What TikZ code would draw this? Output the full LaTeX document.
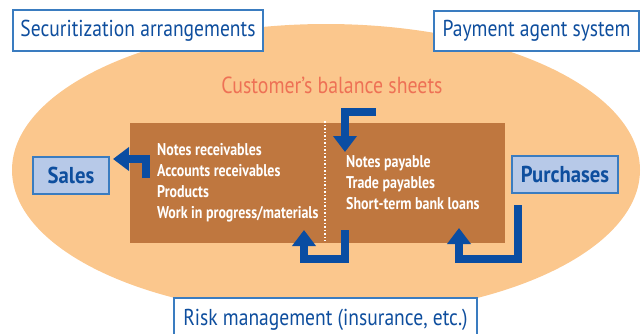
\documentclass[tikz,border=0pt]{standalone}
\usepackage{fontspec}
\setmainfont{PT Sans}[FakeStretch=0.85]
\newfontfamily\condbold{PT Sans}[FakeStretch=0.82,UprightFont=* Bold]
\newfontfamily\boxbold{PT Sans}[FakeStretch=0.9,UprightFont=* Bold]
\usetikzlibrary{arrows.meta}
\definecolor{ellfill}{HTML}{FBC78D}
\definecolor{brown}{HTML}{BF773F}
\definecolor{arrowblue}{HTML}{0A4DA2}
\definecolor{textblue}{HTML}{0E4E9E}
\definecolor{boxborder}{HTML}{3A7CC0}
\definecolor{lightblue}{HTML}{B7C9E8}
\definecolor{salmon}{HTML}{EE7155}
\tikzset{
  titlebox/.style={draw=boxborder, line width=1.3pt, fill=white, text=textblue,
    inner sep=0pt, font=\fontsize{23}{26}\selectfont},
  bluebox/.style={draw=boxborder, line width=1.3pt, fill=lightblue, text=textblue,
    inner sep=0pt, font=\boxbold\fontsize{23}{26}\selectfont},
  listtext/.style={text=white, align=left, inner sep=0pt,
    font=\condbold\fontsize{17}{21}\selectfont},
  flow/.style={draw=arrowblue, line width=8pt, line join=miter, line cap=butt,
    -{Triangle[length=16pt,width=23pt]}},
}
\begin{document}
\begin{tikzpicture}[x=1pt,y=-1pt]
\useasboundingbox (0,0) rectangle (641,333);
\clip (0,0) rectangle (641,333);
% ellipse
\fill[ellfill] (326,170) ellipse [x radius=314pt, y radius=146pt];
% balance sheet block
\node[fill=brown, minimum width=375pt, minimum height=120pt, inner sep=0pt] (bs) at (317.5,183) {};
\coordinate (dtop) at (325,121);
\coordinate (dbot) at (325,241);
\draw[white, line width=1.2pt, dash pattern=on 1.5pt off 2pt] (dtop) -- (dbot);
% title boxes
\node[titlebox, minimum width=250pt, minimum height=41pt] (sec) at (138,30.5) {Securitization arrangements};
\node[titlebox, minimum width=205pt, minimum height=40pt] (pay) at (536.5,31) {Payment agent system};
\node[titlebox, minimum width=303pt, minimum height=44pt] (risk) at (325.5,320) {Risk management (insurance, etc.)};
% heading
\node[text=salmon, inner sep=0pt, font=\fontsize{23.3}{26}\selectfont] (cust) at (332,85) {Customer’s balance sheets};
% sales / purchases
\node[bluebox, minimum width=76pt, minimum height=37pt] (sales) at (71,175.5) {Sales};
\node[bluebox, minimum width=106pt, minimum height=37pt] (purch) at (565,174.5) {Purchases};
% lists
\node[listtext, anchor=west] (assets) at (157,183) {Notes receivables\\Accounts receivables\\Products\\Work in progress/materials};
\node[listtext, anchor=west] (liab) at (346,182.5) {Notes payable\\Trade payables\\Short-term bank loans};
% arrows
\coordinate (a1s) at (146,178);
\coordinate (a1e) at (113,159);
\draw[flow] (a1s) |- (a1e);
\coordinate (a2s) at (376,111.5);
\coordinate (a2e) at (345,152);
\draw[flow] (a2s) -| (a2e);
\coordinate (a3s) at (345,230);
\coordinate (a3m) at (345,259);
\coordinate (a3n) at (304,259);
\coordinate (a3e) at (304,230);
\draw[flow] (a3s) -- (a3m) -- (a3n) -- (a3e);
\coordinate (a4s) at (518,205);
\coordinate (a4m) at (518,259);
\coordinate (a4n) at (459,259);
\coordinate (a4e) at (459,228);
\draw[flow] (a4s) -- (a4m) -- (a4n) -- (a4e);
\end{tikzpicture}
\end{document}
